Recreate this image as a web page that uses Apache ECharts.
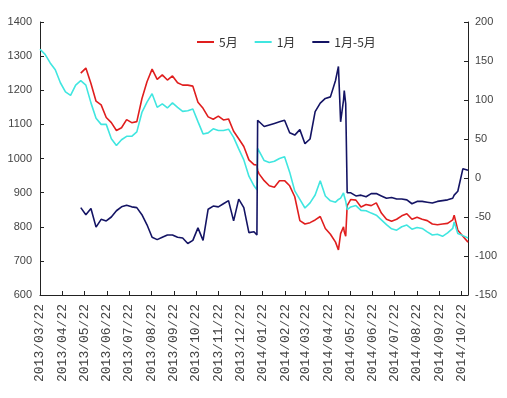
<!DOCTYPE html>
<html><head><meta charset="utf-8">
<script src="https://cdn.jsdelivr.net/npm/echarts@6/dist/echarts.min.js"></script>
<style>html,body{margin:0;padding:0;background:#fff}#c{width:507px;height:398px}</style>
</head><body><div id="c"></div>
<script>
const dates = ['2013-03-22','2013-03-29','2013-04-05','2013-04-12','2013-04-19','2013-04-26','2013-05-03','2013-05-10',
'2013-05-17','2013-05-24','2013-05-31','2013-06-07','2013-06-14','2013-06-21','2013-06-28','2013-07-05','2013-07-12','2013-07-19',
'2013-07-26','2013-08-02','2013-08-09','2013-08-16','2013-08-23','2013-08-30','2013-09-06','2013-09-13','2013-09-20','2013-09-27',
'2013-10-04','2013-10-11','2013-10-18','2013-10-25','2013-11-01','2013-11-08','2013-11-15','2013-11-22','2013-11-29','2013-12-06',
'2013-12-13','2013-12-20','2013-12-27','2014-01-03','2014-01-10','2014-01-14','2014-01-15','2014-01-17','2014-01-24','2014-01-31',
'2014-02-07','2014-02-14','2014-02-21','2014-02-28','2014-03-07','2014-03-14','2014-03-21','2014-03-28','2014-04-04','2014-04-11',
'2014-04-18','2014-04-25','2014-05-02','2014-05-06','2014-05-09','2014-05-13','2014-05-14','2014-05-16','2014-05-18','2014-05-23',
'2014-05-30','2014-06-06','2014-06-13','2014-06-20','2014-06-27','2014-07-04','2014-07-11','2014-07-18','2014-07-25','2014-08-01',
'2014-08-08','2014-08-15','2014-08-22','2014-08-29','2014-09-05','2014-09-12','2014-09-19','2014-09-26','2014-10-03','2014-10-10',
'2014-10-12','2014-10-17','2014-10-24','2014-10-31'];

const jan = [1320,1305,1280,1260,1222,1195,1185,1215,1228,1215,1163,1118,1100,1100,1058,1038,1055,1065,1065,1078,
1135,1165,1190,1150,1160,1148,1163,1150,1138,1140,1145,1108,1072,1075,1087,1082,1082,1086,1062,1028,996,948,920,
908,1030,
1028,994,988,992,1000,1005,960,905,880,855,870,893,935,890,876,872,
880,884,899,890,875,850,
858,862,848,847,840,834,820,806,794,790,800,805,793,798,795,785,776,778,772,782,795,
814,780,774,767];

const may = [null,null,null,null,null,null,null,null,
1250,1265,1220,1168,1157,1120,1105,1082,1090,1114,1105,1108,1175,1225,1262,1232,1245,1230,1242,1222,1215,1215,1212,
1165,1147,1122,1115,1124,1113,1116,1080,1058,1035,996,982,
981,965,
955,935,920,916,935,935,920,888,818,808,812,820,830,795,778,755,
732,780,800,785,772,862,
880,878,858,865,862,870,840,822,816,822,832,838,822,828,822,818,808,806,808,810,820,
834,790,772,755];

const spread = [null,null,null,null,null,null,null,null,
-38,-47,-39,-63,-53,-55,-50,-42,-37,-35,-37,-38,-47,-60,-76,-79,-76,-73,-73,-76,-77,-84,-80,-64,-80,
-40,-36,-37,-33,-29,-55,-27,-38,-70,-69,
-73,74,
72,66,68,70,72,74,58,55,62,44,50,85,96,102,104,125,
143,72,100,112,95,-19,
-19,-23,-22,-24,-20,-20,-23,-26,-25,-27,-27,-28,-33,-30,-30,-31,-32,-30,-29,-28,-26,
-22,-17,12,10];

const tickDates = ['2013-03-22','2013-04-22','2013-05-22','2013-06-22','2013-07-22','2013-08-22','2013-09-22','2013-10-22',
'2013-11-22','2013-12-22','2014-01-22','2014-02-22','2014-03-22','2014-04-22','2014-05-22','2014-06-22','2014-07-22',
'2014-08-22','2014-09-22','2014-10-22'];
const axisMinDate = '2013-03-22';
const axisMaxDate = '2014-10-31';
const seriesNames = ['5月','1月','1月-5月'];

const DAY = 86400000;
function utc(s){const p=s.split('-');return Date.UTC(+p[0],+p[1]-1,+p[2]);}
const t0 = utc(axisMinDate);
function dayOf(s){return Math.round((utc(s)-t0)/DAY);}
function fmt(v){const d=new Date(t0+Math.round(v)*DAY);const m=d.getUTCMonth()+1,dd=d.getUTCDate();
  return d.getUTCFullYear()+'/'+(m<10?'0':'')+m+'/'+(dd<10?'0':'')+dd;}
function pairs(arr){return dates.map((d,i)=>[dayOf(d),arr[i]]);}

const ticks = tickDates.map(dayOf);
const chart = echarts.init(document.getElementById('c'));
const axisLineStyle = {color:'#222',width:1};
chart.setOption({
  animation:false,
  backgroundColor:'#fff',
  grid:{left:40,right:39,top:22,bottom:103},
  legend:{
    data:seriesNames, left:197, top:36, padding:0, icon:'rect', itemWidth:17, itemHeight:2, itemGap:17,
    textStyle:{fontFamily:'Noto Sans CJK SC',fontSize:12,color:'#333'}
  },
  xAxis:{
    type:'value', min:0, max:dayOf(axisMaxDate),
    axisLine:{onZero:false,lineStyle:axisLineStyle},
    axisTick:{show:true,inside:true,length:4,customValues:ticks,lineStyle:axisLineStyle},
    axisLabel:{customValues:ticks,rotate:90,margin:9,formatter:fmt,
      fontFamily:'Liberation Mono',fontSize:13,color:'#444'},
    splitLine:{show:false}
  },
  yAxis:[
    {type:'value',min:600,max:1400,interval:100,
     axisLine:{show:true,lineStyle:axisLineStyle},
     axisTick:{show:true,inside:true,length:4,lineStyle:axisLineStyle},
     axisLabel:{margin:8,formatter:v=>String(v),fontFamily:'Liberation Sans',fontSize:11,color:'#444'},
     splitLine:{show:false}},
    {type:'value',min:-150,max:200,interval:50,
     axisLine:{show:true,lineStyle:axisLineStyle},
     axisTick:{show:true,inside:true,length:4,lineStyle:axisLineStyle},
     axisLabel:{margin:7,formatter:v=>String(v),fontFamily:'Liberation Sans',fontSize:11,color:'#444'},
     splitLine:{show:false}}
  ],
  series:[
    {name:seriesNames[0],type:'line',data:pairs(may),yAxisIndex:0,showSymbol:false,symbol:'none',
     lineStyle:{color:'#e01e1e',width:1.6},itemStyle:{color:'#e01e1e'}},
    {name:seriesNames[1],type:'line',data:pairs(jan),yAxisIndex:0,showSymbol:false,symbol:'none',
     lineStyle:{color:'#40e6e0',width:1.6},itemStyle:{color:'#40e6e0'}},
    {name:seriesNames[2],type:'line',data:pairs(spread),yAxisIndex:1,showSymbol:false,symbol:'none',
     lineStyle:{color:'#141464',width:1.6},itemStyle:{color:'#141464'}}
  ]
});
</script></body></html>
